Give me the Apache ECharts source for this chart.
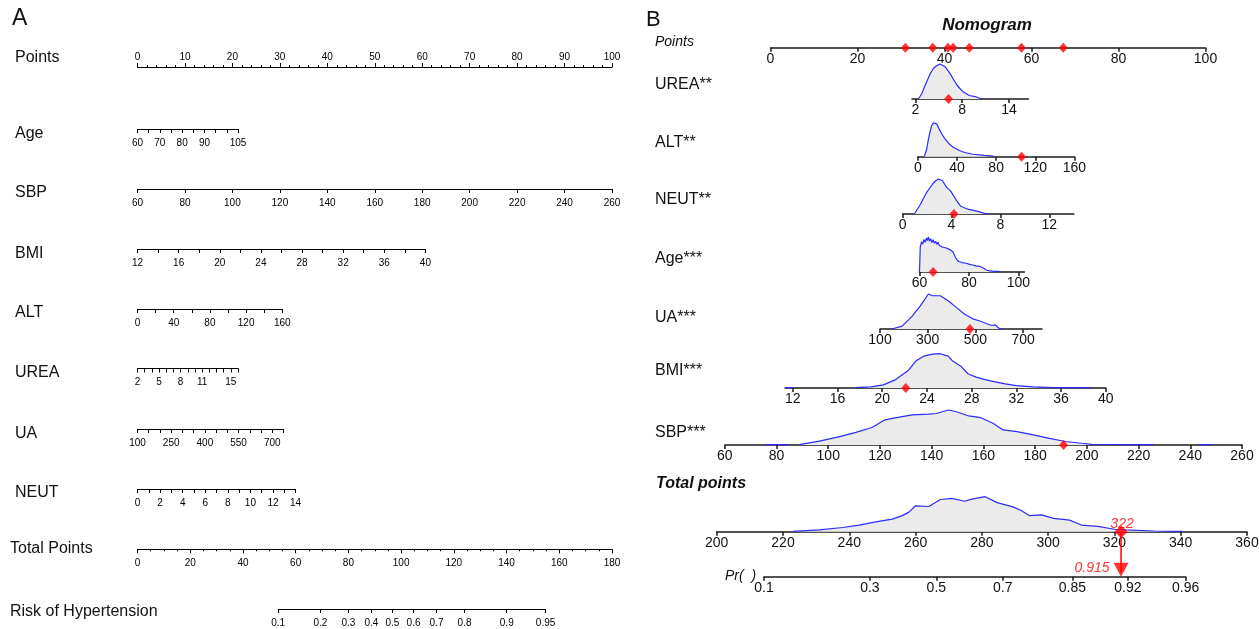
<!DOCTYPE html>
<html><head><meta charset="utf-8">
<script src="https://cdn.jsdelivr.net/npm/echarts@6/dist/echarts.min.js"></script>
<style>html,body{margin:0;padding:0;background:#fff}#c{width:1259px;height:629px}</style>
</head><body><div id="c"></div>
<script>
// ================= DATA =================
// ---- Panel A (rms nomogram) ----
const aPointsRange = [0, 100];
const aAgeRange = [60, 105];   const aAgeLabels = [60, 70, 80, 90, 105];
const aSbpRange = [60, 260];
const aBmiRange = [12, 40];    const aBmiLabels = [12, 16, 20, 24, 28, 32, 36, 40];
const aAltRange = [0, 160];    const aAltLabels = [0, 40, 80, 120, 160];
const aUreaRange = [2, 16];    const aUreaLabels = [2, 5, 8, 11, 15];
const aUaRange = [100, 750];   const aUaLabels = [100, 250, 400, 550, 700];
const aNeutRange = [0, 14];    const aNeutLabels = [0, 2, 4, 6, 8, 10, 12, 14];
const aTotalRange = [0, 180];
const aRiskLabels = [0.1, 0.2, 0.3, 0.4, 0.5, 0.6, 0.7, 0.8, 0.9, 0.95];

// ---- Panel B (regplot nomogram) ----
const bPointsLabels = [0, 20, 40, 60, 80, 100];
const obsPoints = [31.0, 37.3, 40.8, 42.0, 45.7, 57.7, 67.3];

const ureaRange = [1.55, 16.5]; const ureaLabels = [2, 8, 14]; const ureaObs = 6.24;
const ureaDensX = [2.37, 2.8, 3.15, 3.55, 3.93, 4.3, 4.71, 5.13, 5.76, 6.15, 6.54, 6.9, 7.32, 7.7, 8.1, 8.9, 9.67, 10.45];
const ureaDensY = [0, 0.15, 0.34, 0.55, 0.74, 0.87, 0.95, 1.0, 0.93, 0.82, 0.69, 0.55, 0.40, 0.30, 0.21, 0.10, 0.07, 0];

const altRange = [0, 160]; const altLabels = [0, 40, 80, 120, 160]; const altObs = 106;
const altDensX = [6.6, 9, 10.7, 12.5, 14, 16, 17.7, 19.5, 21, 24, 27, 30, 33, 36, 39.5, 43, 47.8, 56, 68, 76.6, 78];
const altDensY = [0, 0.22, 0.49, 0.72, 0.88, 0.97, 1.0, 0.93, 0.83, 0.67, 0.54, 0.43, 0.34, 0.27, 0.22, 0.17, 0.12, 0.07, 0.04, 0.02, 0];

const neutRange = [0, 14]; const neutLabels = [0, 4, 8, 12]; const neutObs = 4.2;
const neutDensX = [0.96, 1.45, 1.95, 2.44, 2.7, 2.93, 3.26, 3.6, 3.92, 4.35, 4.75, 5.4, 6.07, 6.7, 7.0];
const neutDensY = [0, 0.27, 0.61, 0.85, 0.95, 1.0, 0.95, 0.76, 0.66, 0.42, 0.22, 0.13, 0.08, 0.02, 0];

const ageRange = [60, 102.4]; const ageLabels = [60, 80, 100]; const ageObs = 65.5;
const ageDensX = [60, 60.3, 60.8, 61.3, 61.8, 62.3, 62.8, 63.2, 63.6, 64.0, 64.5, 65.0, 65.5, 66.0, 66.5, 67.0, 67.5, 68.0, 68.5, 69.0, 69.5, 70.0, 70.5, 71.0, 71.7, 72.3, 73.0, 73.5, 74.0, 74.5, 75.0, 75.8, 76.5, 77.2, 78.0, 78.8, 79.5, 80.3, 81.0, 81.5, 82.3, 83.0, 84.0, 84.8, 85.6, 86.4, 87.2, 88.5, 90, 92, 92.5];
const ageDensY = [0, 0.7, 0.86, 0.8, 0.93, 0.85, 0.97, 0.9, 1.0, 0.88, 0.95, 0.84, 0.92, 0.82, 0.88, 0.79, 0.85, 0.76, 0.8, 0.72, 0.77, 0.7, 0.74, 0.68, 0.73, 0.64, 0.66, 0.58, 0.5, 0.42, 0.36, 0.3, 0.32, 0.27, 0.29, 0.25, 0.26, 0.22, 0.24, 0.2, 0.21, 0.17, 0.17, 0.14, 0.12, 0.08, 0.05, 0.03, 0.02, 0.02, 0];

const uaRange = [100, 779]; const uaLabels = [100, 300, 500, 700]; const uaObs = 477;
const uaDensX = [150, 193, 235, 269, 303, 320, 353, 387, 421, 455, 489, 522, 556, 570, 582, 599, 616];
const uaDensY = [0, 0.08, 0.37, 0.66, 1.0, 0.95, 0.95, 0.8, 0.61, 0.42, 0.29, 0.22, 0.13, 0.1, 0.12, 0.02, 0];

const bmiRange = [11.3, 40]; const bmiLabels = [12, 16, 20, 24, 28, 32, 36, 40]; const bmiObs = 22.1;
const bmiDensX = [11.3, 12.0, 14, 17.6, 19.0, 20.1, 21.2, 22.3, 23.0, 23.7, 24.5, 25.2, 25.9, 26.3, 27.0, 27.7, 28.4, 29.2, 29.9, 31.0, 32.0, 33.5, 35.3, 38.7];
const bmiDensY = [0.01, 0.01, '-', 0.01, 0.03, 0.09, 0.24, 0.49, 0.77, 0.91, 0.97, 0.98, 0.91, 0.77, 0.63, 0.4, 0.31, 0.24, 0.19, 0.12, 0.07, 0.03, 0.01, 0.01];

const sbpRange = [60, 260]; const sbpLabels = [60, 80, 100, 120, 140, 160, 180, 200, 220, 240, 260]; const sbpObs = 191;
const sbpDensX = [75.6, 84.9, 86.5, 88.8, 96.6, 104.4, 110.7, 116.9, 121.6, 126.3, 132.5, 138.7, 141.8, 146.5, 149.6, 154.3, 159, 163.7, 167.6, 173, 179.3, 185.5, 191.7, 198, 201.9, 226, 235, 243, 248.6];
const sbpDensY = [0.01, 0.01, '-', 0.01, 0.11, 0.24, 0.36, 0.5, 0.71, 0.78, 0.86, 0.88, 0.9, 1.0, 0.95, 0.83, 0.78, 0.62, 0.43, 0.38, 0.29, 0.19, 0.1, 0.05, 0.02, 0.01, '-', 0.01, 0.01];

const tpRange = [200, 360]; const tpLabels = [200, 220, 240, 260, 280, 300, 320, 340, 360]; const tpObs = 322;
const tpDensX = [223, 231, 238, 243, 248, 253, 256, 258, 260, 264, 267.5, 271, 274.8, 277, 281, 284.6, 289.4, 292, 294.3, 298, 301.6, 306.5, 310, 315, 320, 323.5, 332, 340.5];
const tpDensY = [0.01, 0.05, 0.12, 0.19, 0.28, 0.36, 0.46, 0.56, 0.74, 0.72, 0.92, 0.95, 0.87, 0.93, 1.0, 0.83, 0.71, 0.6, 0.46, 0.48, 0.38, 0.33, 0.19, 0.15, 0.07, 0.05, 0.02, 0.01];

const prLabels = [0.1, 0.3, 0.5, 0.7, 0.85, 0.92, 0.96];
const prObs = 0.915;

// ================= HELPERS =================
const FONT = "'Liberation Sans', Arial, sans-serif";
const BLUE = '#2b2bff', FILL = '#ebebeb', RED = '#ff0000', INK = '#111';
const logit = p => Math.log(p / (1 - p));
const fmtProb = list => v => {
  let best = list[0];
  for (const p of list) if (Math.abs(logit(p) - v) < Math.abs(logit(best) - v)) best = p;
  return String(best);
};
const zip = (xs, ys) => xs.map((x, i) => [x, ys[i]]);

const grids = [], xAxes = [], yAxes = [], series = [], graphics = [];
function addGrid(left, right, top, height) {
  grids.push({ left, top, width: right - left, height, show: false, containLabel: false, outerBoundsMode: 'none' });
  const gi = grids.length - 1;
  yAxes.push({ gridIndex: gi, type: 'value', min: 0, max: 1, show: false });
  return gi;
}

// Panel A axis
function aAxis(gi, range, o) {
  const ax = {
    gridIndex: gi, type: 'value', min: range[0], max: range[1],
    position: o.top ? 'top' : 'bottom',
    axisLine: { show: true, onZero: false, lineStyle: { color: '#000', width: 1 } },
    axisTick: { show: true, inside: false, length: 4, lineStyle: { color: '#000', width: 1 } },
    minorTick: { show: !!o.minor, splitNumber: o.minor || 5, length: 2, lineStyle: { color: '#000', width: 1 } },
    splitLine: { show: false }, minorSplitLine: { show: false },
    axisLabel: { show: true, margin: o.margin != null ? o.margin : 9, fontSize: 10, color: '#000', fontFamily: FONT,
      hideOverlap: false, showMinLabel: true, showMaxLabel: true }
  };
  if (o.interval != null) ax.interval = o.interval;
  if (o.labels) ax.axisLabel.customValues = o.labels;
  if (o.ticks) ax.axisTick.customValues = o.ticks;
  if (o.formatter) ax.axisLabel.formatter = o.formatter;
  xAxes.push(ax);
}
function aRow(range, x0, x1, y, o) {
  const top = o.top ? y : y - 10;
  const gi = addGrid(x0, x1, top, 10);
  aAxis(gi, range, o);
  return gi;
}

// Panel B axis
function bAxis(gi, range, labels, formatter) {
  xAxes.push({
    gridIndex: gi, type: 'value', min: range[0], max: range[1], position: 'bottom',
    axisLine: { show: true, onZero: false, lineStyle: { color: '#1a1a1a', width: 1.5 } },
    axisTick: { show: true, inside: false, length: 4, customValues: labels, lineStyle: { color: '#1a1a1a', width: 1.5 } },
    minorTick: { show: false }, splitLine: { show: false },
    axisLabel: { show: true, customValues: labels, margin: 4, fontSize: 14, color: INK, fontFamily: FONT,
      hideOverlap: false, showMinLabel: true, showMaxLabel: true, formatter: formatter }
  });
}
function densSeries(gi, xs, ys) {
  series.push({
    type: 'line', xAxisIndex: gi, yAxisIndex: gi, data: zip(xs, ys), showSymbol: false, symbol: 'none',
    clip: false, connectNulls: false, z: 3, silent: true,
    lineStyle: { color: BLUE, width: 1.2 }, areaStyle: { color: FILL, opacity: 1 }
  });
}
function dotSeries(gi, pts, size) {
  series.push({
    type: 'scatter', xAxisIndex: gi, yAxisIndex: gi, data: pts.map(p => [p, 0]), symbol: 'diamond',
    symbolSize: size || [9, 10], clip: false, z: 10, silent: true, itemStyle: { color: RED }
  });
}
function bRow(range, labels, x0, x1, y, xs, ys, obs) {
  const gi = addGrid(x0, x1, y - 35, 35);
  bAxis(gi, range, labels);
  if (xs) densSeries(gi, xs, ys);
  if (obs != null) dotSeries(gi, [obs]);
  return gi;
}
function text(x, y, str, o) {
  o = o || {};
  graphics.push({ type: 'text', x, y, silent: true, style: {
    text: str, fill: o.color || INK, align: o.align || 'left', verticalAlign: 'middle',
    font: `${o.style || 'normal'} ${o.weight || 'normal'} ${o.size || 16}px ${FONT}` } });
}

// ================= PANEL A =================
aRow(aPointsRange, 137.5, 612, 67, { top: true, interval: 10, minor: 5, margin: 5 });
aRow(aAgeRange, 137.5, 238, 129, { interval: 5, labels: aAgeLabels });
aRow(aSbpRange, 137.5, 612, 189, { interval: 20 });
aRow(aBmiRange, 137.5, 425.4, 249, { interval: 2, labels: aBmiLabels });
aRow(aAltRange, 137.5, 282.3, 309, { interval: 20, labels: aAltLabels });
aRow(aUreaRange, 137.5, 238, 368.5, { interval: 1, labels: aUreaLabels });
aRow(aUaRange, 137.5, 283.5, 429, { interval: 50, labels: aUaLabels });
aRow(aNeutRange, 137.5, 295.6, 489, { interval: 1, labels: aNeutLabels });
aRow(aTotalRange, 137.5, 612, 549.3, { interval: 20, minor: 4, margin: 9 });
const aRiskLogits = aRiskLabels.map(logit);
aRow([logit(aRiskLabels[0]), logit(aRiskLabels[aRiskLabels.length - 1])], 278.2, 545.6, 609,
  { labels: aRiskLogits, ticks: aRiskLogits, formatter: fmtProb(aRiskLabels) });

text(12, 19, 'A', { size: 23 });
[['Points', 58], ['Age', 134], ['SBP', 193], ['BMI', 254], ['ALT', 313], ['UREA', 373],
 ['UA', 434], ['NEUT', 493]].forEach(([t, y]) => text(15, y, t));
text(10, 549, 'Total Points');
text(10, 612, 'Risk of Hypertension');

// ================= PANEL B =================
const gPts = addGrid(770.5, 1205.5, 37.7, 10);
bAxis(gPts, [bPointsLabels[0], bPointsLabels[bPointsLabels.length - 1]], bPointsLabels);
dotSeries(gPts, obsPoints);

bRow(ureaRange, ureaLabels, 912, 1028.4, 99, ureaDensX, ureaDensY, ureaObs);
bRow(altRange, altLabels, 917.9, 1074.4, 156.7, altDensX, altDensY, altObs);
bRow(neutRange, neutLabels, 902.6, 1073.8, 214, neutDensX, neutDensY, neutObs);
bRow(ageRange, ageLabels, 919.5, 1024.4, 272, ageDensX, ageDensY, ageObs);
bRow(uaRange, uaLabels, 880, 1042, 329, uaDensX, uaDensY, uaObs);
bRow(bmiRange, bmiLabels, 785, 1105.8, 388, bmiDensX, bmiDensY, bmiObs);
bRow(sbpRange, sbpLabels, 724.8, 1242, 445, sbpDensX, sbpDensY, sbpObs);
const gTp = bRow(tpRange, tpLabels, 716.7, 1247, 531.7, tpDensX, tpDensY, null);
series.push({
  type: 'scatter', xAxisIndex: gTp, yAxisIndex: gTp, data: [[tpObs, 0]], symbol: 'diamond', symbolSize: 13,
  clip: false, z: 12, silent: true, itemStyle: { color: RED },
  label: { show: true, position: 'inside', offset: [1, -8], formatter: String(tpObs), color: RED,
    fontStyle: 'italic', fontSize: 14, fontFamily: FONT }
});

// Pr axis
const gPr = addGrid(764, 1185.6, 566.7, 10);
bAxis(gPr, [logit(prLabels[0]), logit(prLabels[prLabels.length - 1])], prLabels.map(logit), fmtProb(prLabels));

// arrow from total points to probability
const gArr = addGrid(716.7, 1247, 531.7, 45);
xAxes.push({ gridIndex: gArr, type: 'value', min: tpRange[0], max: tpRange[1], show: false });
series.push({ type: 'line', xAxisIndex: gArr, yAxisIndex: gArr, data: [[tpObs, 1], [tpObs, 0.1]], showSymbol: false,
  symbol: 'none', clip: false, z: 11, silent: true, lineStyle: { color: RED, width: 1.5 } });
series.push({ type: 'scatter', xAxisIndex: gArr, yAxisIndex: gArr, data: [[tpObs, 0]], symbol: 'triangle',
  symbolRotate: 180, symbolSize: [15, 14], symbolOffset: [0, -7], clip: false, z: 11, silent: true,
  itemStyle: { color: RED },
  label: { show: true, position: 'left', distance: 4, offset: [0, -2], formatter: String(prObs), color: RED,
    fontStyle: 'italic', fontSize: 14, fontFamily: FONT } });

text(646, 20, 'B', { size: 22 });
text(987, 25, 'Nomogram', { align: 'center', weight: 'bold', style: 'italic', size: 17 });
text(655, 42, 'Points', { style: 'italic', size: 14 });
[['UREA**', 85], ['ALT**', 143], ['NEUT**', 199.5], ['Age***', 259], ['UA***', 318], ['BMI***', 370.5], ['SBP***', 433]]
  .forEach(([t, y]) => text(655, y, t));
text(656, 484, 'Total points', { style: 'italic', weight: 'bold', size: 16 });
text(725, 576, 'Pr(  )', { style: 'italic', size: 14 });

// ================= CHART =================
const chart = echarts.init(document.getElementById('c'), null, { renderer: 'canvas' });
chart.setOption({
  backgroundColor: '#fff', animation: false,
  grid: grids, xAxis: xAxes, yAxis: yAxes, series: series, graphic: graphics
});
</script></body></html>
